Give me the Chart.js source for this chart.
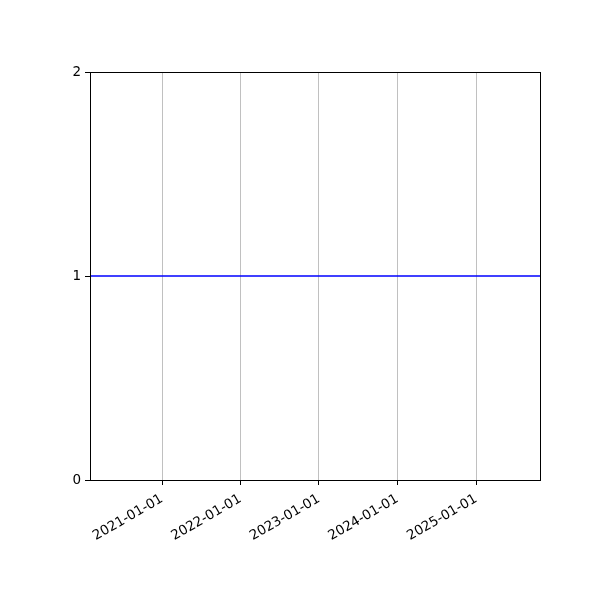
<!DOCTYPE html>
<html lang="en">

<head>
  <meta charset="UTF-8">
  <title>Constant line</title>
  <script src="https://cdn.jsdelivr.net/npm/chart.js"></script>
  <style>
    html, body { margin: 0; padding: 0; background: #fff; }
    #wrap { width: 600px; height: 600px; }
  </style>
</head>

<body>
  <div id="wrap"><canvas id="chart"></canvas></div>

  <script>
    // data
    const lineDates = ["2020-02-01", "2025-10-25"];
    const lineValues = [1, 1];
    const xTickLabels = ["2021-01-01", "2022-01-01", "2023-01-01", "2024-01-01", "2025-01-01"];
    const yTickValues = [0, 1, 2];
    const xRange = ["2020-02-01", "2025-10-25"];

    const toTime = s => Date.parse(s + "T00:00:00Z");
    const fmt = v => new Date(v).toISOString().slice(0, 10);

    // black frame around the plot area, like matplotlib spines
    const frame = {
      id: "frame",
      afterDraw(chart) {
        const { ctx, chartArea: a } = chart;
        ctx.save();
        ctx.strokeStyle = "#000";
        ctx.lineWidth = 1;
        ctx.strokeRect(Math.round(a.left) + 0.5, Math.round(a.top) + 0.5,
          Math.round(a.right - a.left), Math.round(a.bottom - a.top));
        ctx.restore();
      }
    };

    Chart.defaults.font.family = "'DejaVu Sans', sans-serif";
    Chart.defaults.font.size = 13.5;
    Chart.defaults.color = "#000";

    new Chart(document.getElementById("chart"), {
      type: "line",
      data: {
        datasets: [{
          data: lineDates.map((d, i) => ({ x: toTime(d), y: lineValues[i] })),
          borderColor: "#0000ff",
          borderWidth: 1.6,
          pointRadius: 0,
          tension: 0
        }]
      },
      options: {
        responsive: true,
        maintainAspectRatio: false,
        animation: false,
        layout: { padding: { top: 72, right: 60, left: 0, bottom: 0 } },
        plugins: { legend: { display: false }, tooltip: { enabled: false } },
        scales: {
          x: {
            type: "linear",
            min: toTime(xRange[0]),
            max: toTime(xRange[1]),
            afterBuildTicks(axis) {
              axis.ticks = xTickLabels.map(s => ({ value: toTime(s) }));
            },
            afterFit(axis) { axis.height = 120; },
            ticks: {
              callback: v => fmt(v),
              autoSkip: false,
              maxRotation: 30,
              minRotation: 30,
              padding: 6
            },
            grid: {
              color: "#b0b0b0",
              lineWidth: 0.8,
              tickColor: "#000",
              tickLength: 5,
              tickWidth: 1
            },
            border: { color: "#000", width: 1 }
          },
          y: {
            min: 0,
            max: 2,
            afterBuildTicks(axis) {
              axis.ticks = yTickValues.map(v => ({ value: v }));
            },
            afterFit(axis) { axis.width = 90; },
            ticks: { padding: 4 },
            grid: {
              drawOnChartArea: false,
              tickColor: "#000",
              tickLength: 5,
              tickWidth: 1
            },
            border: { color: "#000", width: 1 }
          }
        }
      },
      plugins: [frame]
    });
  </script>
</body>

</html>
